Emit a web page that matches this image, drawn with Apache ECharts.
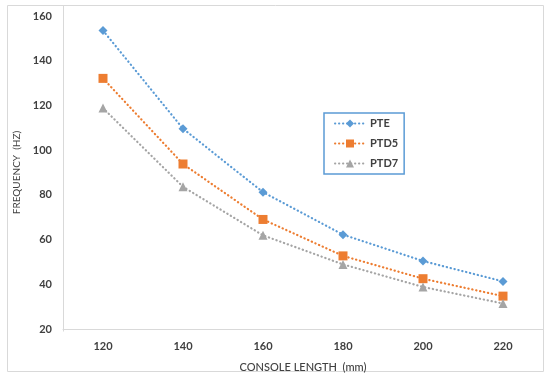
<!DOCTYPE html>
<html>
<head>
<meta charset="utf-8">
<script src="https://cdn.jsdelivr.net/npm/echarts@6/dist/echarts.min.js"></script>
<style>
html,body{margin:0;padding:0;background:#fff;}
#c{width:550px;height:378px;}
</style>
</head>
<body>
<div id="c"></div>
<script>
var categories = ['120', '140', '160', '180', '200', '220'];
var seriesNames = ['PTE', 'PTD5', 'PTD7'];
var pte  = [153.5, 109.6, 81.2, 62.2, 50.4, 41.3];
var ptd5 = [132.1, 93.8, 69.0, 52.7, 42.5, 34.7];
var ptd7 = [118.8, 83.6, 61.9, 48.9, 38.8, 31.4];
var yTicks = { min: 20, max: 160, interval: 20 };

var chart = echarts.init(document.getElementById('c'), null, {renderer: 'canvas'});
var font = 'Lato, "Liberation Sans", sans-serif';
function mk(name, data, color, symbol, size) {
  return {
    name: name, type: 'line', data: data,
    symbol: symbol, symbolSize: size,
    itemStyle: { color: color },
    lineStyle: { color: color, width: 2.2, type: [0.3, 3.7], cap: 'round' },
    animation: false
  };
}
chart.setOption({
  animation: false,
  textStyle: { fontFamily: font },
  grid: { left: 63, right: 7, top: 16, bottom: 47 },
  graphic: [
    { type: 'rect', shape: { x: 7.5, y: 5.5, width: 536, height: 366 }, style: { fill: 'none', stroke: '#d9d9d9', lineWidth: 1 }, z: -1 },
    { type: 'line', shape: { x1: 63.5, y1: 5.5, x2: 63.5, y2: 331.5 }, style: { stroke: '#d9d9d9', lineWidth: 1 }, z: -1 }
  ],
  legend: {
    orient: 'vertical', left: 324, top: 113,
    data: seriesNames,
    itemWidth: 30, itemHeight: 10, itemGap: 9,
    borderColor: '#5B9BD5', borderWidth: 1.5,
    padding: [5, 6, 5, 10],
    textStyle: { fontFamily: font, fontSize: 11, fontWeight: 'bold', color: '#404040' }
  },
  xAxis: {
    type: 'category', data: categories, boundaryGap: true,
    name: 'CONSOLE LENGTH  (mm)', nameLocation: 'middle', nameGap: 33,
    nameTextStyle: { fontFamily: font, fontSize: 11, color: '#404040', fontWeight: 500 },
    axisLine: { show: true, lineStyle: { color: '#d9d9d9', width: 1 } },
    axisTick: { show: false },
    axisLabel: { margin: 12, fontFamily: font, fontSize: 11, fontWeight: 'bold', color: '#404040' },
    splitLine: { show: false }
  },
  yAxis: {
    type: 'value', min: yTicks.min, max: yTicks.max, interval: yTicks.interval,
    name: 'FREQUENCY  (HZ)', nameLocation: 'middle', nameGap: 40, nameRotate: 90,
    nameTextStyle: { fontFamily: font, fontSize: 10, color: '#404040' },
    axisLine: { show: false },
    axisTick: { show: false },
    axisLabel: { margin: 11, fontFamily: font, fontSize: 11, fontWeight: 'bold', color: '#404040' },
    splitLine: { show: false }
  },
  series: [
    mk('PTE', pte, '#5B9BD5', 'diamond', 9),
    mk('PTD5', ptd5, '#ED7D31', 'rect', 9),
    mk('PTD7', ptd7, '#A5A5A5', 'triangle', 9)
  ]
});
</script>
</body>
</html>
